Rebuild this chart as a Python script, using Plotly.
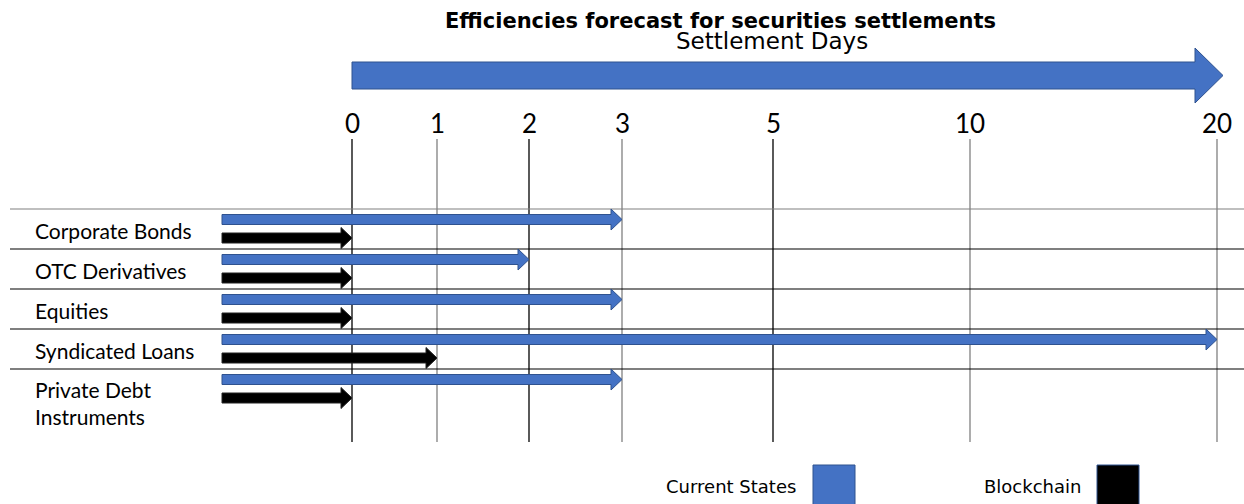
import numpy as np
import plotly.graph_objects as go

# ---- data ----
categories = ["Corporate Bonds", "OTC Derivatives", "Equities", "Syndicated Loans", "Private Debt<br>Instruments"]
current_days = [3, 2, 3, 20, 3]
blockchain_days = [0, 0, 0, 1, 0]
tick_days = [0, 1, 2, 3, 5, 10, 20]
tick_labels = ["0", "1", "2", "3", "5", "10", "20"]
# non-linear day scale: horizontal position of each tick (axis units)
tick_axis_pos = [0, 85, 177, 270, 421, 618, 865]

TITLE = "Efficiencies forecast for securities settlements"
AXIS_TITLE = "Settlement Days"
legend_names = ["Current States", "Blockchain"]

BLUE = "#4472C4"
BLUE_EDGE = "#2F528F"
FONT = "Lato"
WIDE = "DejaVu Sans"


def day_to_x(d):
    return float(np.interp(d, tick_days, tick_axis_pos))


def arrow_path(x0, x1, yc, h, H, L):
    return (f"M {x0},{yc-h} L {x1-L},{yc-h} L {x1-L},{yc-H} L {x1},{yc} "
            f"L {x1-L},{yc+H} L {x1-L},{yc+h} L {x0},{yc+h} Z")


fig = go.Figure()
fig.add_trace(go.Scatter(x=[0], y=[0], mode="markers", marker=dict(opacity=0),
                         showlegend=False, hoverinfo="skip"))

shapes = []
annotations = []

# big top arrow
x_start = day_to_x(tick_days[0])
x_tip = day_to_x(tick_days[-1]) + 6
shapes.append(dict(type="path", path=arrow_path(x_start, x_tip, 75.5, 13.5, 27.5, 28),
                   fillcolor=BLUE, line=dict(color=BLUE_EDGE, width=1), layer="above"))

# vertical lines and tick labels
vcolors = ["#000000", "#808080", "#000000", "#808080", "#000000", "#808080", "#808080"]
for d, lab, c in zip(tick_days, tick_labels, vcolors):
    x = day_to_x(d)
    shapes.append(dict(type="line", x0=x, x1=x, y0=139, y1=442,
                       line=dict(color=c, width=1.3), layer="below"))
    annotations.append(dict(x=x, y=123, text=lab, showarrow=False,
                            font=dict(family=FONT, size=26, color="black"),
                            xanchor="center", yanchor="middle"))

# row lines
row_tops = [209 + 40 * i for i in range(len(categories))]
for i, yt in enumerate(row_tops):
    shapes.append(dict(type="line", x0=10 - 352, x1=1244 - 352, y0=yt, y1=yt,
                       line=dict(color="#808080" if i == 0 else "#000000", width=1.2),
                       layer="below"))

# category labels & arrows
arrow_start = -130
for i, (cat, cur, bc) in enumerate(zip(categories, current_days, blockchain_days)):
    yt = row_tops[i]
    ylab = yt + 21 if "<br>" not in cat else yt + 34
    annotations.append(dict(x=33 - 352, y=ylab, text=cat, showarrow=False, align="left",
                            font=dict(family=FONT, size=21, color="black"),
                            xanchor="left", yanchor="middle"))
    shapes.append(dict(type="path",
                       path=arrow_path(arrow_start, day_to_x(cur), yt + 10.5, 5, 10.5, 11),
                       fillcolor=BLUE, line=dict(color=BLUE_EDGE, width=1), layer="above"))
    shapes.append(dict(type="path",
                       path=arrow_path(arrow_start, day_to_x(bc), yt + 29, 5, 10.5, 11),
                       fillcolor="black", line=dict(color="#222222", width=1), layer="above"))

# titles
annotations.append(dict(x=720 - 352, y=21, text=f"<b>{TITLE}</b>", showarrow=False,
                        font=dict(family=WIDE, size=21, color="black"),
                        xanchor="center", yanchor="middle"))
annotations.append(dict(x=772 - 352, y=41, text=AXIS_TITLE, showarrow=False,
                        font=dict(family=WIDE, size=23, color="black"),
                        xanchor="center", yanchor="middle"))

# legend (drawn)
annotations.append(dict(x=798 - 352, y=486, text=legend_names[0], showarrow=False,
                        font=dict(family=WIDE, size=18, color="black"),
                        xanchor="right", yanchor="middle"))
shapes.append(dict(type="rect", x0=813 - 352, x1=855 - 352, y0=465, y1=506,
                   fillcolor=BLUE, line=dict(color=BLUE_EDGE, width=1)))
annotations.append(dict(x=1083 - 352, y=486, text=legend_names[1], showarrow=False,
                        font=dict(family=WIDE, size=18, color="black"),
                        xanchor="right", yanchor="middle"))
shapes.append(dict(type="rect", x0=1097 - 352, x1=1139 - 352, y0=465, y1=506,
                   fillcolor="black", line=dict(color=BLUE_EDGE, width=1)))

fig.update_layout(
    width=1244, height=504,
    margin=dict(l=0, r=0, t=0, b=0),
    paper_bgcolor="white", plot_bgcolor="white",
    xaxis=dict(range=[-352, 892], visible=False, fixedrange=True),
    yaxis=dict(range=[504, 0], visible=False, fixedrange=True),
    shapes=shapes, annotations=annotations, showlegend=False,
)

fig.write_html("out.html", config={"displayModeBar": False},
               post_script="document.body.style.margin='0';document.body.style.overflow='hidden';")
